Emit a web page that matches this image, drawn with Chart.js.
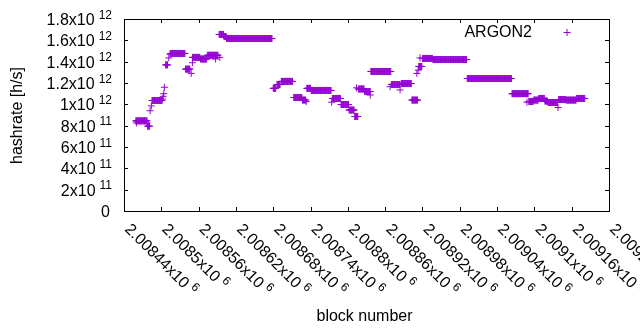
<!DOCTYPE html>
<html>
<head>
<meta charset="utf-8">
<script src="https://cdn.jsdelivr.net/npm/chart.js@4.4.1/dist/chart.umd.min.js"></script>
<style>
  body { margin: 0; background: #fff; }
  canvas { display: block; }
</style>
</head>
<body>
<canvas id="hashChart" width="640" height="330"></canvas>
<script>
// runs of consecutive blocks sharing one hashrate (rate in 10^11 h/s)
const runFirst = [2008459, 2008478, 2008485, 2008507, 2008515, 2008539, 2008550, 2008563, 2008574, 2008593,
                  2008601, 2008605, 2008680, 2008686, 2008693, 2008713, 2008727, 2008734, 2008741, 2008775,
                  2008789, 2008802, 2008811, 2008817, 2008827, 2008837, 2008870, 2008886, 2008903, 2008914,
                  2008920, 2008937, 2008992, 2009064, 2009091, 2009099, 2009107, 2009117, 2009122, 2009139,
                  2009151, 2009168];
const runLast  = [2008477, 2008481, 2008501, 2008510, 2008538, 2008546, 2008562, 2008573, 2008591, 2008600,
                  2008604, 2008678, 2008684, 2008691, 2008711, 2008726, 2008732, 2008740, 2008773, 2008788,
                  2008801, 2008810, 2008816, 2008826, 2008836, 2008869, 2008884, 2008902, 2008912, 2008919,
                  2008936, 2008991, 2009063, 2009090, 2009098, 2009106, 2009116, 2009121, 2009137, 2009150,
                  2009167, 2009181];
const runRate  = [8.45, 7.95, 10.36, 13.7, 14.77, 13.3, 14.4, 14.25, 14.6, 16.55,
                  16.36, 16.17, 11.5, 11.86, 12.15, 10.64, 10.4, 11.5, 11.3, 10.55,
                  9.98, 9.47, 8.86, 11.44, 11.2, 13.08, 11.86, 11.95, 10.4, 13.55,
                  14.3, 14.2, 12.42, 11.0, 10.27, 10.4, 10.55, 10.3, 10.17, 10.45,
                  10.4, 10.55];

// single blocks off the runs
const loneBlock = [2008460, 2008477, 2008482, 2008484, 2008502, 2008503, 2008504, 2008505, 2008512, 2008514,
                   2008548, 2008550, 2008587, 2008594, 2008733, 2008774, 2008814, 2008836, 2008868, 2008884,
                   2008911, 2008913, 2008916, 2009088, 2009138];
const loneRate  = [8.25, 8.25, 9.4, 9.85, 10.5, 10.75, 11.0, 11.6, 14.35, 14.7,
                   12.9, 13.9, 14.25, 14.4, 10.25, 10.2, 11.55, 10.87, 11.65, 11.35,
                   12.9, 13.2, 14.35, 10.2, 9.7];

const xMin = 2008440, xMax = 2009220, xStep = 60;
const yMax = 1.8e12, yStep = 2e11;
const seriesName = 'ARGON2';
const xTitle = 'block number';
const yTitle = 'hashrate [h/s]';

const purple = '#9400d3';
const F16 = '16px "Liberation Sans", Arial, sans-serif';
const F12 = '12px "Liberation Sans", Arial, sans-serif';

const points = [];
runFirst.forEach((b0, i) => {
    for (let b = b0; b <= runLast[i]; b++) points.push({ x: b, y: runRate[i] * 1e11 });
});
loneBlock.forEach((b, i) => points.push({ x: b, y: loneRate[i] * 1e11 }));

// gnuplot style "2.00844x10^6"
function sci(v) {
    if (v === 0) return ['0', ''];
    const e = Math.floor(Math.log10(v) + 1e-9);
    const m = Math.round(v / Math.pow(10, e) * 1e6) / 1e6;
    return [m + 'x10', String(e)];
}

const gnuplotFrame = {
    id: 'gnuplotFrame',
    afterDraw(chart) {
        const { ctx, chartArea: a } = chart;
        const x = chart.scales.x, y = chart.scales.y;
        ctx.save();
        ctx.strokeStyle = '#000';
        ctx.lineWidth = 1;
        ctx.strokeRect(Math.round(a.left) + 0.5, Math.round(a.top) + 0.5,
                       Math.round(a.right - a.left), Math.round(a.bottom - a.top));

        // inward ticks, mirrored
        ctx.beginPath();
        y.ticks.forEach(t => {
            const py = Math.round(y.getPixelForValue(t.value)) + 0.5;
            ctx.moveTo(a.left, py); ctx.lineTo(a.left + 4, py);
            ctx.moveTo(a.right, py); ctx.lineTo(a.right - 4, py);
        });
        x.ticks.forEach(t => {
            const px = Math.round(x.getPixelForValue(t.value)) + 0.5;
            ctx.moveTo(px, a.bottom); ctx.lineTo(px, a.bottom - 4);
            ctx.moveTo(px, a.top); ctx.lineTo(px, a.top + 4);
        });
        ctx.stroke();

        ctx.fillStyle = '#000';
        ctx.textBaseline = 'alphabetic';
        ctx.textAlign = 'left';

        // y tick labels
        y.ticks.forEach(t => {
            const [main, sup] = sci(t.value);
            const py = y.getPixelForValue(t.value);
            ctx.font = F16;
            const wm = ctx.measureText(main).width;
            ctx.font = F12;
            const ws = sup ? ctx.measureText(sup).width + 4 : 0;
            const x0 = (sup ? a.left - 12 : a.left - 14) - wm - ws;
            ctx.font = F16;
            ctx.fillText(main, x0, py + 6);
            if (sup) {
                ctx.font = F12;
                ctx.fillText(sup, x0 + wm + 4, py - 0.5);
            }
        });

        // x tick labels, rotated, starting at the tick
        x.ticks.forEach(t => {
            const [main, sup] = sci(t.value);
            const px = x.getPixelForValue(t.value);
            ctx.save();
            ctx.translate(px, a.bottom + 19);
            ctx.rotate(Math.PI / 4);
            ctx.font = F16;
            ctx.fillText(main, 0, 0);
            const wm = ctx.measureText(main).width;
            ctx.font = F12;
            ctx.fillText(sup, wm + 4, -6.4);
            ctx.restore();
        });

        // axis titles
        ctx.font = F16;
        ctx.textAlign = 'center';
        ctx.fillText(xTitle, (a.left + a.right) / 2 - 2, 321);
        ctx.save();
        ctx.translate(21.5, 115.5);
        ctx.rotate(-Math.PI / 2);
        ctx.fillText(yTitle, 0, 0);
        ctx.restore();

        // key
        ctx.textAlign = 'right';
        ctx.fillText(seriesName, 532, 37);
        ctx.strokeStyle = purple;
        ctx.beginPath();
        ctx.moveTo(563.5, 32.5); ctx.lineTo(570.5, 32.5);
        ctx.moveTo(567, 29); ctx.lineTo(567, 36);
        ctx.stroke();
        ctx.restore();
    }
};

new Chart(document.getElementById('hashChart'), {
    type: 'scatter',
    data: {
        datasets: [{
            label: seriesName,
            data: points,
            pointStyle: 'cross',
            pointRadius: 3.5,
            pointHoverRadius: 3.5,
            pointBorderWidth: 1,
            borderColor: purple,
            backgroundColor: purple,
            showLine: false
        }]
    },
    options: {
        responsive: false,
        animation: false,
        devicePixelRatio: 1,
        events: [],
        layout: { padding: { left: 124, right: 31, top: 19, bottom: 119 } },
        scales: {
            x: {
                type: 'linear', min: xMin, max: xMax,
                ticks: { display: false, stepSize: xStep },
                grid: { display: false },
                border: { display: false },
                afterFit: s => { s.height = 0; }
            },
            y: {
                min: 0, max: yMax,
                ticks: { display: false, stepSize: yStep },
                grid: { display: false },
                border: { display: false },
                afterFit: s => { s.width = 0; }
            }
        },
        plugins: {
            legend: { display: false },
            tooltip: { enabled: false }
        }
    },
    plugins: [gnuplotFrame]
});
</script>
</body>
</html>
